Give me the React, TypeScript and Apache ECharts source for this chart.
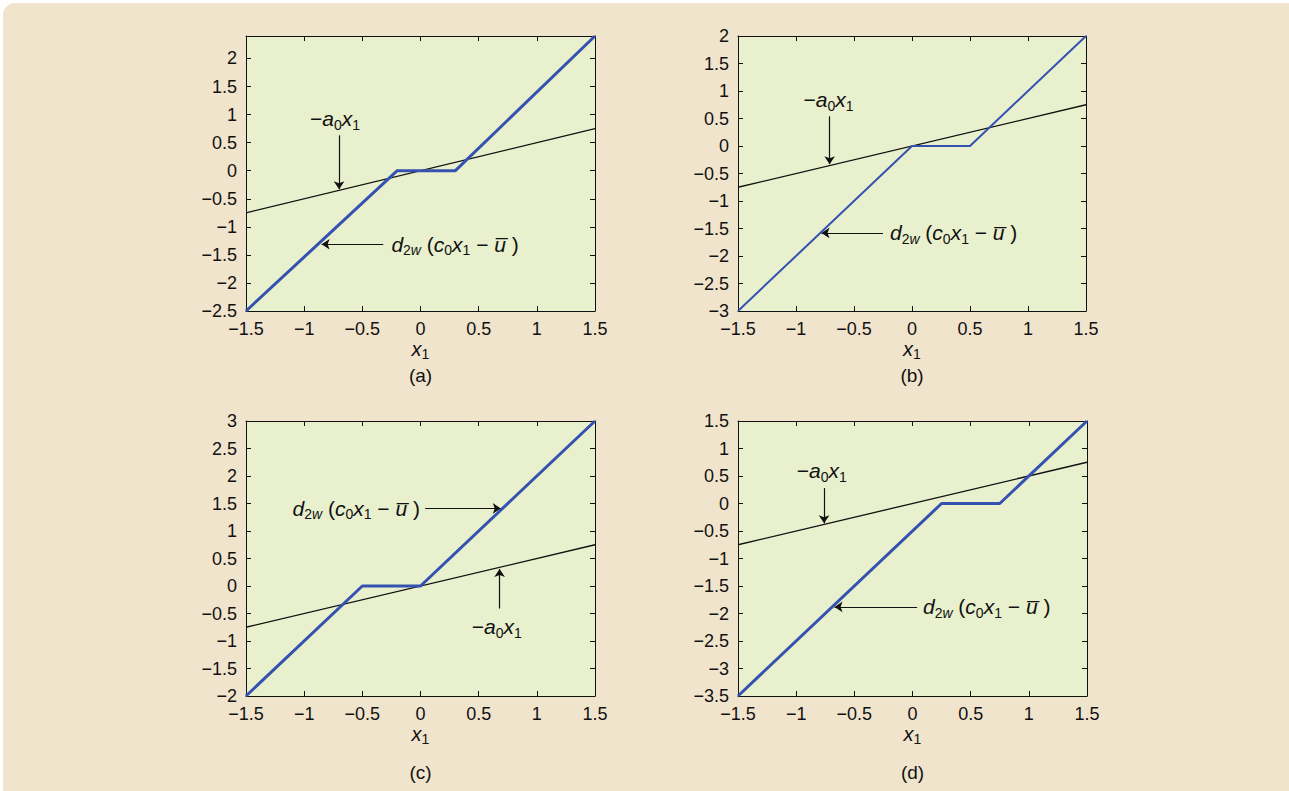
import React, { useEffect, useRef } from 'react';
import * as echarts from 'echarts';

const FONT = '"Liberation Sans", Arial, Helvetica, sans-serif';
const INK = '#111111';
const BLUE = '#3552B0';
const PLOT_BG = '#E8F0CD';
const PAGE_BG = '#F1E4CD';
const FS = 18;
const AFS = 21;

// ---- data ----
const panelNames = ['(a)', '(b)', '(c)', '(d)'];
const xRange = [-1.5, 1.5];
const yRanges = [[-2.5, 2.4], [-3, 2], [-2, 3], [-3.5, 1.5]];
const tickStep = 0.5;

const blueA = [[-1.5, -2.5], [-0.2, 0], [0.3, 0], [1.5, 2.4]];
const blueB = [[-1.5, -3], [0, 0], [0.5, 0], [1.5, 2]];
const blueC = [[-1.5, -2], [-0.5, 0], [0, 0], [1.5, 3]];
const blueD = [[-1.5, -3.5], [0.25, 0], [0.75, 0], [1.5, 1.5]];
const blueSeries = [blueA, blueB, blueC, blueD];
const blackLine = [[-1.5, -0.75], [1.5, 0.75]];
const blueWidths = [3, 2, 3, 3];

// annotation anchors (data coordinates)
const a0LabelPos = [[-0.735, 0.93], [-0.72, 0.84], [0.655, -0.745], [-0.78, 0.6]];
const a0Arrows = [
  [[-0.7, 0.63], [-0.7, -0.33]],
  [[-0.71, 0.54], [-0.71, -0.33]],
  [[0.68, -0.41], [0.68, 0.31]],
  [[-0.76, 0.28], [-0.76, -0.36]],
];
const dLabelPos = [[-0.25, -1.31], [-0.19, -1.58], [-1.1, 1.41], [0.09, -1.88]];
const dArrows = [
  [[-0.32, -1.31], [-0.85, -1.31]],
  [[-0.25, -1.58], [-0.78, -1.58]],
  [[0.04, 1.41], [0.69, 1.41]],
  [[0.04, -1.88], [-0.67, -1.88]],
];

// ---- layout ----
const grids = [
  { left: 246, top: 36, width: 349, height: 275 },
  { left: 738, top: 36, width: 348, height: 275 },
  { left: 246, top: 421, width: 349, height: 275 },
  { left: 738, top: 421, width: 349, height: 275 },
];
const captionY = [375, 375, 772, 772];

const noBorder = { textBorderWidth: 0, textBorderColor: 'transparent', textShadowBlur: 0 };
const rich: any = {
  n: { fontSize: AFS, fontFamily: FONT, color: INK, lineHeight: 26, verticalAlign: 'middle', ...noBorder },
  i: { fontSize: AFS, fontFamily: FONT, color: INK, lineHeight: 26, verticalAlign: 'middle', fontStyle: 'italic', ...noBorder },
  s: { fontSize: 14, fontFamily: FONT, color: INK, lineHeight: 16, verticalAlign: 'bottom', ...noBorder },
  si: { fontSize: 14, fontFamily: FONT, color: INK, lineHeight: 16, verticalAlign: 'bottom', fontStyle: 'italic', ...noBorder },
};
const richName: any = {
  i: { fontSize: 20, fontFamily: FONT, color: INK, lineHeight: 24, verticalAlign: 'middle', fontStyle: 'italic' },
  s: { fontSize: 14, fontFamily: FONT, color: INK, lineHeight: 15, verticalAlign: 'bottom' },
};
const labA0 = '{n|\u2212}{i|a}{s|0}{i|x}{s|1}';
const labD = '{i|d}{s|2}{si|w}{n| (}{i|c}{s|0}{i|x}{s|1}{n| \u2212 }{i|u\u0305}{n| )}';
const labX1 = '{i|x}{s|1}';

const fmt = (v: number) => {
  if (Math.abs(v / tickStep - Math.round(v / tickStep)) > 1e-6) return '';
  if (Math.abs(v) < 1e-9) return '0';
  return v < 0 ? '\u2212' + String(Math.abs(v)) : String(v);
};

function buildOption() {
  const xAxis: any[] = [];
  const yAxis: any[] = [];
  const series: any[] = [];
  const graphic: any[] = [];
  const tickText = { fontSize: FS, fontFamily: FONT, color: INK, lineHeight: 16 };
  grids.forEach((g, k) => {
    const common = {
      type: 'value',
      gridIndex: k,
      splitLine: { show: false },
      axisLine: { show: true, onZero: false, lineStyle: { color: INK, width: 1 } },
      axisTick: { show: true, inside: true, length: 5, lineStyle: { color: INK, width: 1 } },
    };
    xAxis.push({
      ...common, position: 'bottom', min: xRange[0], max: xRange[1], interval: tickStep,
      axisLabel: { show: true, margin: 10, formatter: fmt, ...tickText },
      name: labX1, nameLocation: 'middle', nameGap: 25,
      nameTextStyle: { rich: richName },
    });
    xAxis.push({
      ...common, position: 'top', min: xRange[0], max: xRange[1], interval: tickStep,
      axisLabel: { show: false },
    });
    yAxis.push({
      ...common, position: 'left', min: yRanges[k][0], max: yRanges[k][1], interval: tickStep,
      axisLabel: { show: true, margin: 9, formatter: fmt, ...tickText, showMaxLabel: true },
    });
    yAxis.push({
      ...common, position: 'right', min: yRanges[k][0], max: yRanges[k][1], interval: tickStep,
      axisLabel: { show: false },
    });
    const xi = 2 * k;
    const yi = 2 * k;
    const arrowLine = (seg: number[][]) => [{ coord: seg[0] }, { coord: seg[1] }];
    series.push({
      type: 'line', xAxisIndex: xi, yAxisIndex: yi, data: blackLine, symbol: 'none', silent: true,
      lineStyle: { color: INK, width: 1.3 }, z: 2,
      markLine: {
        silent: true, symbol: ['none', 'arrow'], symbolSize: 8,
        label: { show: false },
        lineStyle: { color: INK, width: 1.2, type: 'solid' },
        data: [arrowLine(a0Arrows[k]), arrowLine(dArrows[k])],
      },
    });
    series.push({
      type: 'line', xAxisIndex: xi, yAxisIndex: yi, data: blueSeries[k], symbol: 'none', silent: true,
      lineStyle: { color: BLUE, width: blueWidths[k] }, z: 3,
    });
    const lbl = (formatter: string, align: string) => ({
      show: true, position: 'inside', align, verticalAlign: 'middle', formatter, rich, color: INK, opacity: 1, ...noBorder,
    });
    series.push({
      type: 'scatter', xAxisIndex: xi, yAxisIndex: yi, symbolSize: 0, silent: true, z: 4,
      itemStyle: { color: INK, opacity: 1 },
      data: [
        { value: a0LabelPos[k], label: lbl(labA0, 'center') },
        { value: dLabelPos[k], label: lbl(labD, 'left') },
      ],
    });
    graphic.push({
      type: 'text', x: g.left + g.width / 2, y: captionY[k],
      style: { text: panelNames[k], fontSize: 19, fontFamily: FONT, fill: INK, textAlign: 'center', textVerticalAlign: 'middle' },
    });
  });
  return {
    animation: false,
    backgroundColor: 'transparent',
    grid: grids.map((g) => ({ ...g, show: true, backgroundColor: PLOT_BG, borderWidth: 0 })),
    xAxis, yAxis, series, graphic,
  };
}

export default function App() {
  const ref = useRef<HTMLDivElement>(null);
  useEffect(() => {
    if (!ref.current) return;
    const chart = echarts.init(ref.current, undefined, { renderer: 'svg' });
    chart.setOption(buildOption() as any);
    return () => chart.dispose();
  }, []);
  return (
    <div style={{ position: 'fixed', left: 0, top: 0, width: 1289, height: 791, background: '#ffffff', overflow: 'hidden' }}>
      <div style={{ position: 'absolute', left: 3, top: 3, width: 1300, height: 800, background: PAGE_BG, borderTopLeftRadius: 12 }} />
      <div ref={ref} style={{ position: 'absolute', left: 0, top: 0, width: 1289, height: 791 }} />
    </div>
  );
}
